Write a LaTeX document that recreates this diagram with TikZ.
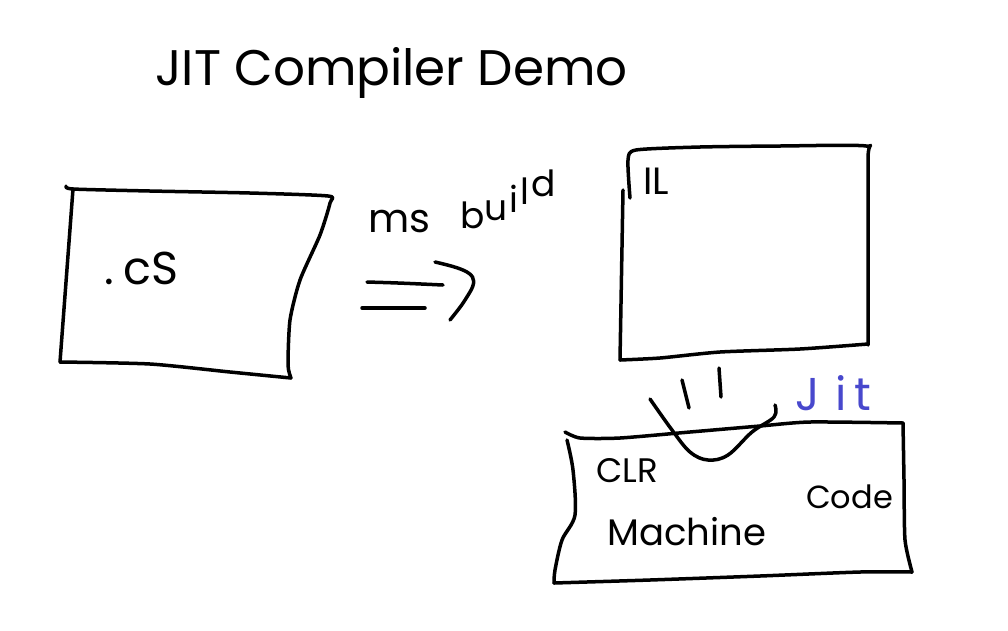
\documentclass[tikz,border=0pt]{standalone}
\usepackage{fontspec}
\setmainfont{Poppins}
\definecolor{jitblue}{RGB}{72,72,205}
\begin{document}
\begin{tikzpicture}[x=1pt,y=-1pt,
  ink/.style={draw=black,line width=3.5pt,line cap=round,line join=round},
  hand/.style={inner sep=0pt,anchor=base west,font=\fontsize{#1}{#1}\selectfont},
  hand/.default=40]
\useasboundingbox[fill=white] (0,0) rectangle (1008,630);
% title
\node[hand=50] (title) at (155,85) {JIT Compiler Demo};
% .cs box
\draw[ink] plot[smooth,tension=0.4] coordinates {(66,186) (73,189) (150,191) (250,193) (328,196) (330,203) (320,235) (300,280) (290,320) (288,365) (291,378)};
\draw[ink] (73,189) -- (60,362);
\draw[ink] plot[smooth,tension=0.4] coordinates {(60,362) (150,364) (230,372) (291,378)};
\node[hand=46] (cs) at (104,284) {.\hspace{10pt}cS};
% msbuild arrow
\coordinate (a1s) at (367,282); \coordinate (a1e) at (443,285);
\coordinate (a2s) at (362,308); \coordinate (a2e) at (425,308);
\draw[ink] (a1s) .. controls (400,283) .. (a1e);
\draw[ink] (a2s) -- (a2e);
\draw[ink] (435,262) .. controls (470,270) and (480,275) .. (470,292) .. controls (462,305) .. (450,320);
\node[hand=40] (ms) at (368,232) {ms};
\node[hand=36] (build) at (460,228) {b\raisebox{8pt}{u}\raisebox{16pt}{\hspace{2pt}i}\raisebox{24pt}{\hspace{2pt}l}\raisebox{32pt}{\hspace{2pt}d}};
% IL box
\draw[ink] plot[smooth,tension=0.4] coordinates {(630,198) (628,160) (636,150) (700,147) (780,146) (866,146) (868,160) (868,345)};
\draw[ink] (623,190) -- (620,360);
\draw[ink] plot[smooth,tension=0.4] coordinates {(620,360) (660,358) (720,352) (800,349) (868,344)};
\node[hand=38] (il) at (643,194) {IL};
% jit marks
\draw[ink] plot[smooth,tension=0.6] coordinates {(650,399) (672,430) (690,452) (708,460) (728,455) (752,432) (774,417) (775,405)};
\draw[ink] (682,380) -- (689,408);
\draw[ink] (719,368) -- (721,397);
\node[hand=46,text=jitblue] (jit) at (795,410) {J\hspace{16pt}i\hspace{8pt}t};
% CLR box
\draw[ink] plot[smooth,tension=0.4] coordinates {(565,432) (580,438) (620,438) (690,432) (760,426) (810,422) (903,423)};
\draw[ink] plot[smooth,tension=0.5] coordinates {(567,440) (573,470) (575,515) (562,540) (555,570) (554,583)};
\draw[ink] plot[smooth,tension=0.4] coordinates {(903,423) (904,480) (905,540) (912,572)};
\draw[ink] plot[smooth,tension=0.4] coordinates {(554,583) (650,580) (760,576) (860,572) (912,572)};
\node[hand=34] (clr) at (596,482) {CLR};
\node[hand=37] (machine) at (607,545) {Machine};
\node[hand=32] (code) at (806,508) {Code};
\end{tikzpicture}
\end{document}
